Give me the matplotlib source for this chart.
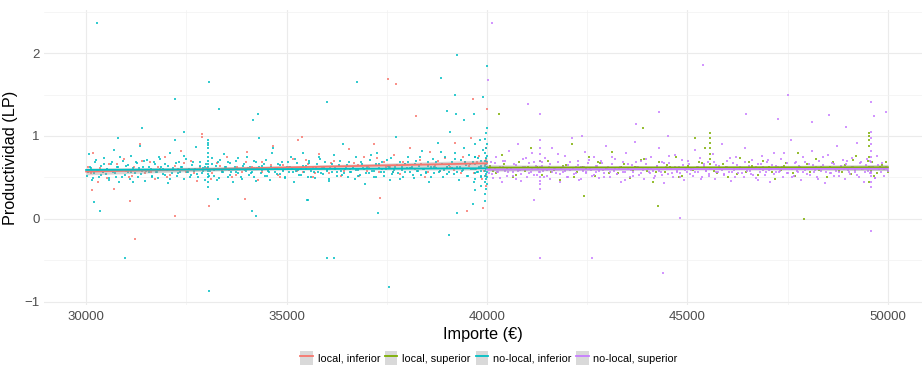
import matplotlib
matplotlib.use("Agg")
import matplotlib.pyplot as plt
from matplotlib.patches import Patch
from matplotlib.lines import Line2D
import numpy as np

plt.rcParams['font.family'] = ['Liberation Sans', 'DejaVu Sans']

# ---------------- data ----------------
series_labels = ["local, inferior", "local, superior", "no-local, inferior", "no-local, superior"]
series_colors = ["#F8766D", "#7CAE00", "#00BFC4", "#C77CFF"]

x_ticks = [30000, 35000, 40000, 45000, 50000]
y_ticks = [-1, 0, 1, 2]

# no-local, inferior (cyan)
nli_x = [30020, 30060, 30110, 30150, 30190, 30230, 30280, 30320, 30360, 30410,
         30450, 30490, 30530, 30580, 30620, 30660, 30700, 30750, 30790, 30830,
         30870, 30920, 30960, 31000, 31050, 31090, 31130, 31180, 31220, 31260,
         31300, 31350, 31390, 31430, 31480, 31520, 31560, 31610, 31650, 31700,
         31740, 31790, 31830, 31870, 31920, 31960, 32010, 32050, 32090, 32140,
         32180, 32220, 32270, 32310, 32350, 32400, 32440, 32480, 32530, 32570,
         32610, 32660, 32700, 32740, 32790, 32830, 32880, 32920, 32960, 33000,
         33030, 33030, 33030, 33030, 33030, 33030, 33030, 33030, 33030, 33030, 33030, 33030, 33030, 33030,
         33100, 33150, 33190, 33230, 33280, 33320, 33360, 33410, 33450, 33490,
         33540, 33580, 33620, 33670, 33710, 33750, 33800, 33840, 33880, 33930,
         33970, 34010, 34060, 34100, 34140, 34190, 34230, 34270, 34320, 34360,
         34400, 34450, 34490, 34530, 34580, 34620, 34660, 34710, 34750, 34790,
         34840, 34880, 34920, 34970, 35010, 35050, 35100, 35140, 35180, 35230,
         35270, 35310, 35360, 35400, 35440, 35490, 35530, 35570, 35620, 35660,
         35700, 35750, 35790, 35830, 35880, 35920, 35960, 36010, 36050, 36090,
         36140, 36180, 36220, 36270, 36310, 36350, 36400, 36440, 36480, 36530,
         36570, 36610, 36660, 36700, 36740, 36790, 36830, 36870, 36920, 36960,
         37000, 37050, 37090, 37130, 37180, 37220, 37260, 37310, 37350, 37390,
         37440, 37480, 37520, 37570, 37610, 37650, 37700, 37740, 37780, 37830,
         37870, 37910, 37960, 38000, 38040, 38090, 38130, 38170, 38220, 38260,
         38300, 38350, 38390, 38430, 38480, 38520, 38560, 38610, 38650, 38690,
         38740, 38780, 38820, 38870, 38910, 38950, 39000, 39040, 39080, 39130,
         39170, 39210, 39260, 39300, 39340, 39390, 39430, 39470, 39520, 39560,
         39600, 39640, 39680, 39710, 39740, 39770, 39800, 39830, 39860, 39890,
         39700, 39700, 39700, 39700, 39700, 39700, 39850, 39850, 39850, 39850,
         39960, 39975, 39990, 39960, 39975, 39990, 39960, 39975, 39990, 39960, 39975, 39990,
         39960, 39975, 39990, 39960, 39975, 39990, 39960, 39975, 39990, 39960, 39975, 39990,
         30274, 32216, 33060, 33310, 34160, 34280, 31400, 30350, 30200, 30970,
         33060, 34130, 34250, 33290, 35500, 30800, 32440, 36750, 36000, 38860,
         39240, 39190, 39990, 39890, 38990, 39220, 39420, 39670, 39060, 37550,
         36000, 36180, 37270, 39240, 39640, 39960, 35530]
nli_y = [0.52, 0.78, 0.61, 0.47, 0.55, 0.69, 0.58, 0.50, 0.64, 0.57,
         0.73, 0.54, 0.60, 0.49, 0.66, 0.56, 0.83, 0.51, 0.62, 0.45,
         0.59, 0.70, 0.53, 0.64, 0.57, 0.48, 0.76, 0.61, 0.55, 0.67,
         0.50, 0.88, 0.58, 0.63, 0.46, 0.71, 0.56, 0.60, 0.52, 0.68,
         0.57, 0.49, 0.74, 0.62, 0.54, 0.66, 0.59, 0.43, 0.80, 0.55,
         0.61, 0.95, 0.52, 0.68, 0.57, 0.63, 0.48, 0.72, 0.56, 0.60,
         0.53, 0.69, 0.58, 0.87, 0.50, 0.64, 0.55, 0.61, 0.47, 0.66,
         0.39, 0.45, 0.50, 0.54, 0.58, 0.62, 0.66, 0.70, 0.75, 0.80, 0.85, 0.89, 0.92, 0.95,
         0.58, 0.73, 0.52, 0.64, 0.69, 0.49, 0.60, 0.56, 0.78, 0.62,
         0.51, 0.67, 0.57, 0.44, 0.63, 0.70, 0.55, 0.60, 0.48, 0.66,
         0.59, 0.75, 0.53, 0.62, 0.57, 0.50, 0.68, 0.61, 0.97, 0.55,
         0.64, 0.52, 0.71, 0.58, 0.47, 0.62, 0.85, 0.56, 0.60, 0.66,
         0.54, 0.69, 0.59, 0.50, 0.63, 0.57, 0.74, 0.61, 0.45, 0.58,
         0.67, 0.53, 0.60, 0.80, 0.56, 0.64, 0.51, 0.70, 0.58, 0.62,
         0.49, 0.66, 0.57, 0.72, 0.61, 0.54, 0.68, 0.59, 0.46, 0.63,
         0.56, 0.77, 0.60, 0.52, 0.65, 0.58, 0.90, 0.55, 0.62, 0.50,
         0.69, 0.57, 0.61, 0.48, 0.74, 0.59, 0.53, 0.66, 0.60, 0.42,
         0.63, 0.55, 0.71, 0.58, 0.50, 0.66, 0.79, 0.61, 0.56, 0.68,
         0.52, 0.60, 0.64, 0.47, 0.73, 0.57, 0.62, 0.99, 0.55, 0.69,
         0.59, 0.51, 0.66, 0.61, 0.75, 0.56, 0.63, 0.49, 0.70, 0.58,
         0.64, 0.53, 0.82, 0.60, 0.57, 0.68, 0.45, 0.62, 0.72, 0.55,
         0.61, 0.92, 0.58, 0.66, 0.50, 0.74, 0.63, 0.57, 1.05, 0.69,
         0.54, 0.80, 0.62, 0.47, 0.71, 0.59, 0.86, 0.65, 0.52, 0.77,
         0.60, 0.68, 0.44, 0.90, 0.56, 0.73, 0.62, 0.95, 0.50, 0.83,
         0.35, 0.48, 0.55, 0.60, 0.66, 0.75, 0.40, 0.52, 0.58, 0.70,
         0.30, 0.36, 0.42, 0.45, 0.48, 0.50, 0.52, 0.54, 0.56, 0.58, 0.60, 0.62,
         0.64, 0.66, 0.68, 0.70, 0.73, 0.76, 0.80, 0.85, 0.90, 0.96, 1.03, 1.10,
         2.36, 1.45, 1.65, 1.33, 1.19, 1.27, 1.10, 0.09, 0.20, -0.47,
         -0.87, 0.10, 0.04, 0.24, 0.23, 0.98, 1.05, 1.65, 1.41, 1.70,
         1.98, 1.49, 1.84, 1.47, 1.30, 1.27, 1.19, 1.26, -0.19, -0.82,
         -0.47, -0.47, 0.07, 0.07, 0.18, 0.22, 0.23]

# extra no-local, inferior points in the dense core band
nli_core_x = [30040, 30100, 30170, 30240, 30300, 30380, 30440, 30510, 30570, 30640,
              30710, 30770, 30840, 30900, 30980, 31040, 31110, 31170, 31240, 31310,
              31370, 31440, 31500, 31580, 31640, 31710, 31770, 31840, 31910, 31970,
              32040, 32100, 32170, 32240, 32300, 32370, 32430, 32510, 32580, 32640,
              32710, 32770, 32840, 32910, 32970, 33070, 33130, 33200, 33260, 33340,
              33400, 33470, 33530, 33600, 33660, 33730, 33790, 33860, 33920, 33990,
              34050, 34120, 34180, 34250, 34310, 34380, 34440, 34510, 34570, 34640,
              34700, 34770, 34830, 34900, 34960, 35030, 35090, 35160, 35220, 35290,
              35350, 35420, 35480, 35550, 35610, 35680, 35740, 35810, 35870, 35940,
              36000, 36070, 36130, 36200, 36260, 36330, 36390, 36460, 36520, 36590,
              36650, 36720, 36780, 36850, 36910, 36980, 37040, 37110, 37170, 37240,
              37300, 37370, 37430, 37500, 37560, 37630, 37690, 37760, 37820, 37890,
              37950, 38020, 38080, 38150, 38210, 38280, 38340, 38410, 38470, 38540,
              38600, 38670, 38730, 38800, 38860, 38930, 38990, 39060, 39120, 39190,
              39250, 39320, 39380, 39450, 39510, 39580, 39640, 39710, 39770, 39840]
nli_core_y = [0.56, 0.63, 0.49, 0.71, 0.58, 0.53, 0.66, 0.60, 0.47, 0.69,
              0.55, 0.62, 0.74, 0.51, 0.59, 0.65, 0.57, 0.45, 0.68, 0.61,
              0.54, 0.70, 0.58, 0.63, 0.50, 0.66, 0.56, 0.72, 0.60, 0.53,
              0.64, 0.48, 0.59, 0.67, 0.55, 0.62, 0.76, 0.57, 0.51, 0.65,
              0.60, 0.54, 0.69, 0.58, 0.63, 0.52, 0.66, 0.59, 0.47, 0.71,
              0.56, 0.62, 0.68, 0.53, 0.60, 0.57, 0.73, 0.50, 0.64, 0.58,
              0.61, 0.55, 0.70, 0.46, 0.63, 0.59, 0.66, 0.52, 0.57, 0.79,
              0.60, 0.54, 0.65, 0.58, 0.49, 0.68, 0.62, 0.56, 0.72, 0.59,
              0.53, 0.64, 0.60, 0.67, 0.51, 0.57, 0.63, 0.74, 0.55, 0.61,
              0.58, 0.48, 0.66, 0.62, 0.56, 0.70, 0.53, 0.60, 0.65, 0.57,
              0.63, 0.59, 0.52, 0.68, 0.61, 0.55, 0.64, 0.77, 0.58, 0.50,
              0.66, 0.60, 0.56, 0.71, 0.62, 0.54, 0.59, 0.65, 0.48, 0.63,
              0.57, 0.69, 0.61, 0.53, 0.66, 0.58, 0.74, 0.60, 0.55, 0.64,
              0.50, 0.62, 0.68, 0.57, 0.81, 0.59, 0.54, 0.65, 0.61, 0.72,
              0.56, 0.63, 0.58, 0.69, 0.52, 0.66, 0.60, 0.75, 0.57, 0.64]

# local, inferior (red)
li_x = [30050, 30180, 30300, 30420, 30560, 30690, 30810, 30950, 31080, 31200,
        31340, 31460, 31590, 31710, 31850, 31980, 32100, 32230, 32370, 32490,
        32620, 32760, 32880, 33010, 33140, 33260, 33390, 33520, 33640, 33770,
        33900, 34020, 34150, 34280, 34400, 34530, 34660, 34780, 34910, 35040,
        35160, 35290, 35420, 35540, 35670, 35800, 35920, 36050, 36180, 36300,
        36430, 36560, 36680, 36810, 36940, 37060, 37190, 37310, 37440, 37570,
        37690, 37820, 37950, 38070, 38200, 38320, 38450, 38580, 38700, 38830,
        38960, 39080, 39210, 39340, 39460, 39590, 39720, 39800, 39880, 39960,
        39980, 39980, 39980, 39980,
        32890, 35380, 31100, 32216, 31230, 33060, 33960, 37520, 37720, 39640,
        38240, 39990, 37320, 39490, 39910, 30150]
li_y = [0.62, 0.80, 0.44, 0.57, 0.66, 0.36, 0.59, 0.72, 0.51, 0.63,
        0.90, 0.55, 0.68, 0.48, 0.60, 0.75, 0.53, 0.64, 0.82, 0.57,
        0.70, 0.46, 0.99, 0.61, 0.55, 0.67, 0.58, 0.74, 0.50, 0.63,
        0.56, 0.81, 0.62, 0.47, 0.69, 0.59, 0.88, 0.53, 0.65, 0.60,
        0.72, 0.95, 0.57, 0.66, 0.50, 0.78, 0.62, 0.55, 0.70, 0.64,
        0.58, 0.84, 0.67, 0.52, 0.74, 0.61, 0.90, 0.56, 0.69, 0.63,
        0.77, 0.54, 0.66, 0.86, 0.60, 0.71, 0.50, 0.81, 0.64, 0.58,
        0.73, 0.62, 0.92, 0.55, 0.68, 0.98, 0.60, 0.76, 0.48, 0.66,
        0.40, 0.52, 0.70, 0.85,
        1.02, 0.99, 0.22, 0.04, -0.24, 0.16, 0.24, 1.69, 1.63, 1.45,
        1.24, 1.33, 0.25, 0.09, 0.13, 0.35]
li_core_x = [30120, 30340, 30530, 30760, 30990, 31150, 31400, 31620, 31800, 32030,
             32280, 32450, 32690, 32850, 33120, 33330, 33560, 33740, 33980, 34200,
             34380, 34610, 34830, 35070, 35250, 35480, 35700, 35930, 36120, 36360,
             36590, 36790, 37010, 37250, 37480, 37660, 37900, 38110, 38350, 38540,
             38770, 38990, 39170, 39390, 39560, 39680, 39760, 39840, 39920, 39970]
li_core_y = [0.55, 0.61, 0.49, 0.66, 0.58, 0.52, 0.70, 0.57, 0.63, 0.50,
             0.60, 0.67, 0.55, 0.62, 0.48, 0.64, 0.59, 0.53, 0.69, 0.61,
             0.57, 0.65, 0.51, 0.62, 0.58, 0.71, 0.55, 0.63, 0.67, 0.52,
             0.60, 0.65, 0.58, 0.73, 0.62, 0.56, 0.68, 0.61, 0.66, 0.57,
             0.70, 0.63, 0.59, 0.75, 0.64, 0.55, 0.69, 0.62, 0.58, 0.72]

# no-local, superior (purple)
nls_x = [40050, 40100, 40140, 40190, 40230, 40280, 40320, 40370, 40410, 40460,
         40500, 40550, 40590, 40640, 40680, 40730, 40770, 40820, 40860, 40910,
         40950, 41000, 41040, 41090, 41130, 41180, 41220, 41270, 41310, 41360,
         41310, 41310, 41310, 41310, 41310, 41310, 41310, 41310, 41310,
         41400, 41450, 41490, 41540, 41580, 41630, 41670, 41720, 41760, 41810,
         41850, 41900, 41940, 41990, 42030, 42080, 42120, 42170, 42210, 42260,
         42300, 42350, 42390, 42440, 42480, 42530, 42570, 42620, 42660, 42710,
         42750, 42800, 42840, 42890, 42930, 42980, 43020, 43070, 43110, 43160,
         43200, 43250, 43290, 43340, 43380, 43430, 43470, 43520, 43560, 43610,
         43650, 43700, 43740, 43790, 43830, 43880, 43920, 43970, 44010, 44060,
         44100, 44150, 44190, 44240, 44280, 44330, 44370, 44420, 44460, 44510,
         44550, 44600, 44640, 44690, 44730, 44780, 44820, 44870, 44910, 44960,
         45000, 45050, 45090, 45140, 45180, 45230, 45270, 45320, 45360, 45410,
         45450, 45500, 45540, 45590, 45630, 45680, 45720, 45770, 45810, 45860,
         45900, 45950, 45990, 46040, 46080, 46130, 46170, 46220, 46260, 46310,
         46350, 46400, 46440, 46490, 46530, 46580, 46620, 46670, 46710, 46760,
         46800, 46850, 46890, 46940, 46980, 47030, 47070, 47120, 47160, 47210,
         47250, 47300, 47340, 47390, 47430, 47480, 47520, 47570, 47610, 47660,
         47700, 47750, 47790, 47840, 47880, 47930, 47970, 48020, 48060, 48110,
         48150, 48200, 48240, 48290, 48330, 48380, 48420, 48470, 48510, 48560,
         48600, 48650, 48690, 48740, 48780, 48830, 48870, 48920, 48960, 49010,
         49050, 49100, 49140, 49190, 49230, 49280, 49320, 49370, 49410, 49460,
         49500, 49550, 49590, 49640, 49680, 49730, 49770, 49820, 49860, 49910, 49950, 49990,
         49580, 49580, 49580, 49580, 49580, 49580, 49580, 49580, 49580, 49580, 49580,
         40130, 40030, 41010, 41310, 41310, 42630, 41160, 42380, 45390, 47510,
         49580, 49950, 49650, 44300, 46460, 47260, 48530, 48100, 43720, 48950,
         44520, 44820, 44390, 49580]
nls_y = [0.55, 0.68, 0.49, 0.60, 0.74, 0.57, 0.63, 0.45, 0.70, 0.58,
         0.52, 0.82, 0.61, 0.56, 0.66, 0.48, 0.90, 0.59, 0.54, 0.72,
         0.62, 0.50, 0.67, 0.57, 0.79, 0.53, 0.64, 0.60, 0.46, 0.69,
         0.36, 0.42, 0.50, 0.56, 0.62, 0.70, 0.78, 0.86, 0.95,
         0.58, 0.73, 0.52, 0.63, 0.48, 0.85, 0.60, 0.55, 0.68, 0.44,
         0.61, 0.57, 0.76, 0.50, 0.65, 0.59, 0.97, 0.54, 0.62, 0.70,
         0.47, 0.63, 0.58, 0.81, 0.55, 0.67, 0.60, 0.52, 0.74, 0.57,
         0.64, 0.49, 0.70, 0.59, 0.55, 0.88, 0.62, 0.51, 0.66, 0.58,
         0.72, 0.54, 0.61, 0.45, 0.68, 0.57, 0.79, 0.60, 0.50, 0.65,
         0.56, 0.93, 0.63, 0.53, 0.70, 0.59, 0.48, 0.66, 0.61, 0.55,
         0.75, 0.58, 0.52, 0.64, 0.86, 0.57, 0.69, 0.43, 0.62, 0.54,
         0.67, 0.60, 0.50, 0.77, 0.58, 0.63, 0.55, 0.71, 0.47, 0.61,
         0.56, 0.66, 0.59, 0.52, 0.83, 0.62, 0.57, 0.73, 0.50, 0.64,
         0.58, 0.69, 0.54, 0.61, 0.78, 0.48, 0.65, 0.57, 0.60, 0.90,
         0.53, 0.62, 0.70, 0.56, 0.46, 0.67, 0.59, 0.74, 0.55, 0.63,
         0.60, 0.51, 0.85, 0.58, 0.64, 0.54, 0.71, 0.61, 0.49, 0.66,
         0.57, 0.76, 0.62, 0.53, 0.68, 0.59, 0.45, 0.65, 0.80, 0.56,
         0.63, 0.58, 0.72, 0.50, 0.61, 0.67, 0.55, 0.95, 0.60, 0.52,
         0.69, 0.57, 0.64, 0.47, 0.74, 0.59, 0.54, 0.66, 0.61, 0.82,
         0.56, 0.63, 0.50, 0.70, 0.58, 0.65, 0.43, 0.61, 0.77, 0.55,
         0.67, 0.52, 0.60, 0.88, 0.57, 0.63, 0.71, 0.48, 0.66, 0.59,
         0.54, 0.73, 0.62, 0.57, 0.92, 0.51, 0.68, 0.60, 0.45, 0.65,
         0.58, 0.70, 0.55, 0.63, 0.49, 0.76, 0.60, 0.56, 0.67, 0.52, 0.62, 0.58,
         0.38, 0.45, 0.52, 0.57, 0.62, 0.68, 0.75, 0.82, 0.90, 0.98, 1.05,
         2.36, 1.67, 1.39, 1.26, -0.47, -0.47, 0.23, 1.00, 1.86, 1.50,
         1.41, 1.29, 1.24, 1.29, 1.27, 1.20, 1.25, 1.17, 1.14, 1.11,
         1.00, 0.01, -0.65, -0.15]
nls_core_x = [40070, 40130, 40200, 40260, 40330, 40390, 40460, 40520, 40590, 40650,
              40720, 40780, 40850, 40910, 40980, 41040, 41110, 41170, 41240, 41300,
              41370, 41430, 41500, 41560, 41630, 41690, 41760, 41820, 41890, 41950,
              42020, 42080, 42150, 42210, 42280, 42340, 42410, 42470, 42540, 42600,
              42670, 42730, 42800, 42860, 42930, 42990, 43060, 43120, 43190, 43250,
              43320, 43380, 43450, 43510, 43580, 43640, 43710, 43770, 43840, 43900,
              43970, 44030, 44100, 44160, 44230, 44290, 44360, 44420, 44490, 44550,
              44620, 44680, 44750, 44810, 44880, 44940, 45010, 45070, 45140, 45200,
              45270, 45330, 45400, 45460, 45530, 45590, 45660, 45720, 45790, 45850,
              45920, 45980, 46050, 46110, 46180, 46240, 46310, 46370, 46440, 46500,
              46570, 46630, 46700, 46760, 46830, 46890, 46960, 47020, 47090, 47150,
              47220, 47280, 47350, 47410, 47480, 47540, 47610, 47670, 47740, 47800,
              47870, 47930, 48000, 48060, 48130, 48190, 48260, 48320, 48390, 48450,
              48520, 48580, 48650, 48710, 48780, 48840, 48910, 48970, 49040, 49100,
              49170, 49230, 49300, 49360, 49430, 49490, 49560, 49620, 49690, 49750]
nls_core_y = [0.60, 0.54, 0.67, 0.57, 0.49, 0.63, 0.70, 0.56, 0.61, 0.52,
              0.65, 0.58, 0.46, 0.62, 0.73, 0.55, 0.60, 0.68, 0.53, 0.57,
              0.64, 0.50, 0.59, 0.66, 0.56, 0.61, 0.78, 0.54, 0.63, 0.58,
              0.51, 0.69, 0.60, 0.55, 0.65, 0.48, 0.62, 0.57, 0.71, 0.59,
              0.53, 0.64, 0.58, 0.67, 0.50, 0.61, 0.56, 0.74, 0.60, 0.54,
              0.63, 0.57, 0.47, 0.66, 0.59, 0.52, 0.68, 0.62, 0.55, 0.60,
              0.72, 0.56, 0.61, 0.49, 0.64, 0.58, 0.53, 0.67, 0.60, 0.76,
              0.55, 0.62, 0.57, 0.51, 0.65, 0.59, 0.70, 0.54, 0.61, 0.57,
              0.63, 0.48, 0.66, 0.58, 0.52, 0.60, 0.69, 0.56, 0.64, 0.59,
              0.54, 0.62, 0.73, 0.57, 0.50, 0.65, 0.60, 0.55, 0.68, 0.61,
              0.58, 0.53, 0.63, 0.47, 0.66, 0.59, 0.56, 0.71, 0.60, 0.54,
              0.64, 0.57, 0.62, 0.80, 0.55, 0.61, 0.51, 0.67, 0.58, 0.63,
              0.56, 0.69, 0.60, 0.53, 0.65, 0.59, 0.48, 0.62, 0.74, 0.57,
              0.61, 0.55, 0.66, 0.58, 0.52, 0.64, 0.60, 0.70, 0.56, 0.63,
              0.59, 0.53, 0.67, 0.61, 0.57, 0.72, 0.55, 0.62, 0.49, 0.65]

# local, superior (green)
ls_x = [40080, 40220, 40370, 40510, 40660, 40800, 40950, 41090, 41240, 41380,
        41530, 41670, 41820, 41960, 42110, 42250, 42400, 42540, 42690, 42830,
        42980, 43120, 43270, 43410, 43560, 43700, 43850, 43990, 44140, 44280,
        44430, 44570, 44720, 44860, 45010, 45150, 45300, 45440, 45590, 45730,
        45560, 45560, 45560, 45560, 45560, 45560, 45560,
        45880, 46020, 46170, 46310, 46460, 46600, 46750, 46890, 47040, 47180,
        47330, 47470, 47620, 47760, 47910, 48050, 48200, 48340, 48490, 48630,
        48780, 48920, 49070, 49210, 49360, 49500, 49650, 49790, 49940, 49990,
        49520, 49520, 49520, 49520, 49520, 49520,
        40290, 42430, 43890, 45560, 49520, 44270, 47900, 45190]
ls_y = [0.64, 0.55, 0.77, 0.60, 0.50, 0.69, 0.58, 0.86, 0.63, 0.53,
        0.70, 0.59, 0.47, 0.65, 0.90, 0.56, 0.62, 0.74, 0.52, 0.67,
        0.60, 0.81, 0.55, 0.66, 0.49, 0.63, 0.71, 0.58, 0.44, 0.68,
        0.57, 0.62, 0.75, 0.52, 0.64, 0.59, 0.69, 0.85, 0.61, 0.55,
        0.60, 0.66, 0.72, 0.78, 0.85, 0.92, 0.97,
        0.66, 0.50, 0.60, 0.73, 0.57, 0.64, 0.53, 0.70, 0.62, 0.48,
        0.59, 0.67, 0.55, 0.80, 0.61, 0.56, 0.72, 0.63, 0.51, 0.68,
        0.58, 0.65, 0.54, 0.76, 0.60, 0.70, 0.52, 0.63, 0.69, 0.57,
        0.45, 0.62, 0.75, 0.88, 0.95, 1.00,
        1.26, 0.28, 1.09, 1.03, 1.03, 0.16, 0.00, 0.98]
ls_core_x = [40150, 40430, 40720, 41010, 41310, 41600, 41890, 42180, 42470, 42760,
             43050, 43340, 43630, 43920, 44210, 44500, 44790, 45080, 45370, 45660,
             45950, 46240, 46530, 46820, 47110, 47400, 47690, 47980, 48270, 48560,
             48850, 49140, 49430, 49720, 49850, 49580, 49600, 49900]
ls_core_y = [0.58, 0.66, 0.53, 0.62, 0.70, 0.57, 0.64, 0.51, 0.60, 0.68,
             0.55, 0.63, 0.59, 0.72, 0.56, 0.65, 0.50, 0.61, 0.67, 0.58,
             0.62, 0.54, 0.69, 0.60, 0.57, 0.64, 0.52, 0.66, 0.59, 0.63,
             0.56, 0.71, 0.61, 0.55, 0.65, 0.58, 0.68, 0.60]

# linear-fit lines with confidence band
fit_inf_x = [30000, 32500, 35000, 37500, 40000]
fit_sup_x = [40000, 42500, 45000, 47500, 50000]
li_fit = [0.57, 0.595, 0.62, 0.645, 0.67]
li_hw = [0.040, 0.027, 0.020, 0.027, 0.040]
nli_fit = [0.59, 0.595, 0.60, 0.605, 0.61]
nli_hw = [0.022, 0.015, 0.011, 0.015, 0.022]
ls_fit = [0.618, 0.619, 0.62, 0.621, 0.622]
ls_hw = [0.035, 0.024, 0.018, 0.024, 0.035]
nls_fit = [0.595, 0.597, 0.60, 0.602, 0.604]
nls_hw = [0.020, 0.014, 0.010, 0.014, 0.020]

# ---------------- plot ----------------
fig = plt.figure(figsize=(9.22, 3.68), dpi=100)
ax = fig.add_axes([44 / 922, 1 - 305 / 368, 878 / 922, 295 / 368])

pts = [(li_x + li_core_x, li_y + li_core_y, series_colors[0]),
       (ls_x + ls_core_x, ls_y + ls_core_y, series_colors[1]),
       (nli_x + nli_core_x, nli_y + nli_core_y, series_colors[2]),
       (nls_x + nls_core_x, nls_y + nls_core_y, series_colors[3])]
for xs, ys, c in pts:
    ax.scatter(xs, ys, s=2.0, marker='s', color=c, linewidths=0, alpha=0.8, zorder=2)

fits = [(fit_inf_x, li_fit, li_hw, series_colors[0]),
        (fit_sup_x, ls_fit, ls_hw, series_colors[1]),
        (fit_inf_x, nli_fit, nli_hw, series_colors[2]),
        (fit_sup_x, nls_fit, nls_hw, series_colors[3])]
for fx, fy, hw, c in fits:
    fx = np.array(fx); fy = np.array(fy); hw = np.array(hw)
    ax.fill_between(fx, fy - hw, fy + hw, color="#999999", alpha=0.4, linewidth=0, zorder=3)
    ax.plot(fx, fy, color=c, lw=1.3, zorder=4)

ax.set_xlim(28950, 50850)
ax.set_ylim(-1.04, 2.52)
ax.set_xticks(x_ticks)
ax.set_yticks(y_ticks)
ax.set_xticks([32500, 37500, 42500, 47500], minor=True)
ax.set_yticks([-0.5, 0.5, 1.5, 2.5], minor=True)
ax.grid(which='major', color='#EBEBEB', lw=0.8)
ax.grid(which='minor', color='#F2F2F2', lw=0.5)
ax.set_axisbelow(True)
for s in ax.spines.values():
    s.set_visible(False)
ax.tick_params(which='both', length=0)
ax.tick_params(axis='x', labelsize=9.5, labelcolor='#4D4D4D', pad=4)
ax.tick_params(axis='y', labelsize=9.5, labelcolor='#4D4D4D', pad=3)

ax.set_xlabel("Importe (€)", fontsize=11.7, color='black')
ax.set_ylabel("Productividad (LP)", fontsize=11.7, color='black')
ax.xaxis.set_label_coords(0.5, -0.075)
ax.yaxis.set_label_coords(-0.0296, 0.5)

handles = [(Patch(facecolor='#D9D9D9', edgecolor='none'), Line2D([], [], color=c, lw=1.3))
           for c in series_colors]
fig.legend(handles, series_labels, loc='center', bbox_to_anchor=(489 / 922, 1 - 358 / 368),
           ncol=4, frameon=False, fontsize=7.8, handlelength=1.15, handleheight=1.6,
           handletextpad=0.45, columnspacing=0.45, borderpad=0)

fig.savefig("out.png", dpi=100)
